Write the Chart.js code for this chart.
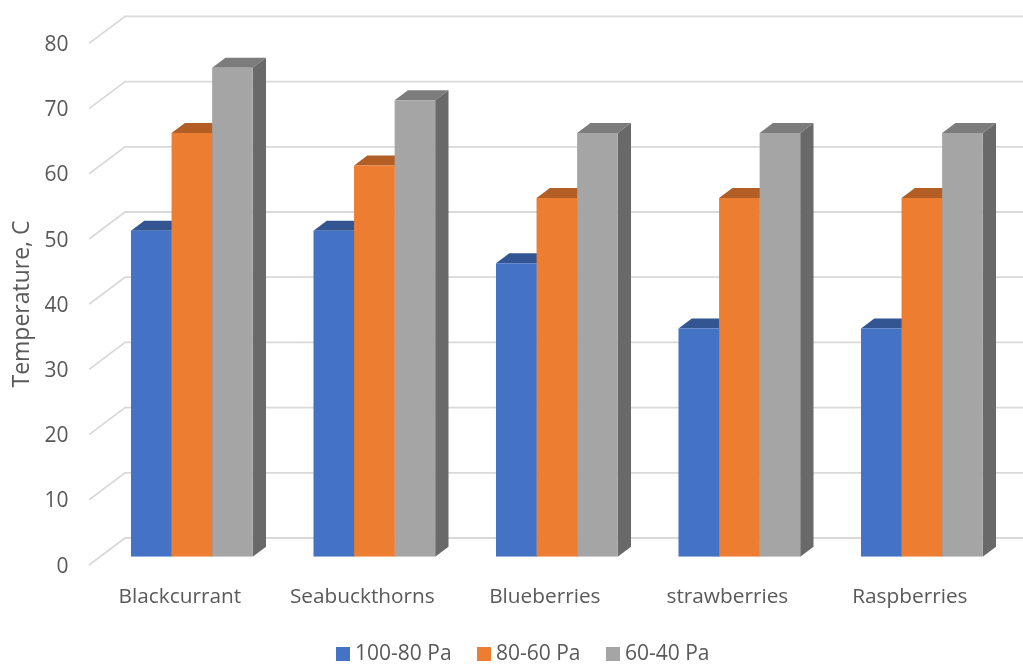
<!DOCTYPE html>
<html>
<head>
<meta charset="utf-8">
<title>Temperature by pressure range</title>
<script src="https://cdn.jsdelivr.net/npm/chart.js@4"></script>
<style>
  html, body { margin: 0; padding: 0; background: #fff; }
  #box { width: 1023px; height: 664px; }
</style>
</head>
<body>
<div id="box"><canvas id="grafico"></canvas></div>
<script>
const categorias = ['Blackcurrant', 'Seabuckthorns', 'Blueberries', 'strawberries', 'Raspberries'];
const serie100a80 = [50, 50, 45, 35, 35];
const serie80a60 = [65, 60, 55, 55, 55];
const serie60a40 = [75, 70, 65, 65, 65];
const yMax = 80;
const yStep = 10;

const corTexto = '#595959';
const corGrade = '#d9d9d9';
const fonte = '"Open Sans", sans-serif';

// depth of each bar and of the floor, in pixels
const barraDx = 13.3, barraDy = 10;
const frenteDx = 11.5, frenteDy = 8.3;
const fundoDx = 24.5, fundoDy = 18.7;

// grid on the side and back walls, box faces of the bars, axis title and legend
const pseudo3d = {
    id: 'pseudo3d',
    beforeDatasetsDraw(chart) {
        const { ctx, scales: { y } } = chart;
        const xBase = chart.chartArea.left;
        ctx.save();
        ctx.strokeStyle = corGrade;
        ctx.lineWidth = 1.8;
        for (let v = 0; v <= yMax; v += yStep) {
            const py = y.getPixelForValue(v);
            ctx.beginPath();
            ctx.moveTo(xBase - frenteDx, py + frenteDy);
            ctx.lineTo(xBase + fundoDx, py - fundoDy);
            ctx.lineTo(chart.width, py - fundoDy);
            ctx.stroke();
        }
        chart.data.datasets.forEach((ds, i) => {
            chart.getDatasetMeta(i).data.forEach(bar => {
                const esq = bar.x - bar.width / 2;
                const dir = bar.x + bar.width / 2;
                ctx.fillStyle = ds.corTopo;
                ctx.beginPath();
                ctx.moveTo(esq, bar.y);
                ctx.lineTo(esq + barraDx, bar.y - barraDy);
                ctx.lineTo(dir + barraDx, bar.y - barraDy);
                ctx.lineTo(dir, bar.y);
                ctx.closePath();
                ctx.fill();
                ctx.fillStyle = ds.corLado;
                ctx.beginPath();
                ctx.moveTo(dir, bar.y);
                ctx.lineTo(dir + barraDx, bar.y - barraDy);
                ctx.lineTo(dir + barraDx, bar.base - barraDy);
                ctx.lineTo(dir, bar.base);
                ctx.closePath();
                ctx.fill();
            });
        });
        ctx.restore();
    },
    afterDraw(chart) {
        const { ctx } = chart;
        ctx.save();
        ctx.fillStyle = corTexto;

        ctx.font = '23px ' + fonte;
        ctx.save();
        ctx.translate(29, 304);
        ctx.rotate(-Math.PI / 2);
        ctx.textAlign = 'center';
        ctx.fillText('Temperature, C', 0, 0);
        ctx.restore();

        ctx.font = '21px ' + fonte;
        ctx.textAlign = 'left';
        ctx.textBaseline = 'middle';
        const legendaX = [336, 477, 606];
        chart.data.datasets.forEach((ds, i) => {
            ctx.fillStyle = ds.backgroundColor;
            ctx.fillRect(legendaX[i], 647, 14, 14);
            ctx.fillStyle = corTexto;
            ctx.fillText(ds.label, legendaX[i] + 19, 654);
        });
        ctx.restore();
    }
};

new Chart(document.getElementById('grafico'), {
    type: 'bar',
    data: {
        labels: categorias,
        datasets: [
            { label: '100-80 Pa', data: serie100a80, backgroundColor: '#4472c4', corTopo: '#335693', corLado: '#2a4675' },
            { label: '80-60 Pa', data: serie80a60, backgroundColor: '#ed7d31', corTopo: '#b25e25', corLado: '#8e4b1d' },
            { label: '60-40 Pa', data: serie60a40, backgroundColor: '#a5a5a5', corTopo: '#7c7c7c', corLado: '#696969' }
        ]
    },
    options: {
        responsive: true,
        maintainAspectRatio: false,
        animation: false,
        layout: { padding: { top: 35.1, right: 9.9 } },
        datasets: { bar: { categoryPercentage: 0.667, barPercentage: 1 } },
        scales: {
            x: {
                grid: { display: false, drawTicks: false },
                border: { display: false },
                afterFit(scale) { scale.height = 664 - 556.7; },
                ticks: {
                    color: corTexto,
                    font: { family: fonte, size: 20.8 },
                    labelOffset: -12,
                    padding: 28,
                    maxRotation: 0,
                    autoSkip: false
                }
            },
            y: {
                min: 0,
                max: yMax,
                // the tick length only pushes the labels away from the bars, no tick is drawn
                grid: { display: false, drawTicks: true, tickLength: 30 },
                border: { display: false },
                afterFit(scale) { scale.width = 100.6; },
                ticks: {
                    stepSize: yStep,
                    color: corTexto,
                    font: { family: fonte, size: 21 },
                    labelOffset: 10,
                    padding: 2
                }
            }
        },
        plugins: {
            legend: { display: false },
            tooltip: { enabled: false }
        }
    },
    plugins: [pseudo3d]
});
</script>
</body>
</html>
